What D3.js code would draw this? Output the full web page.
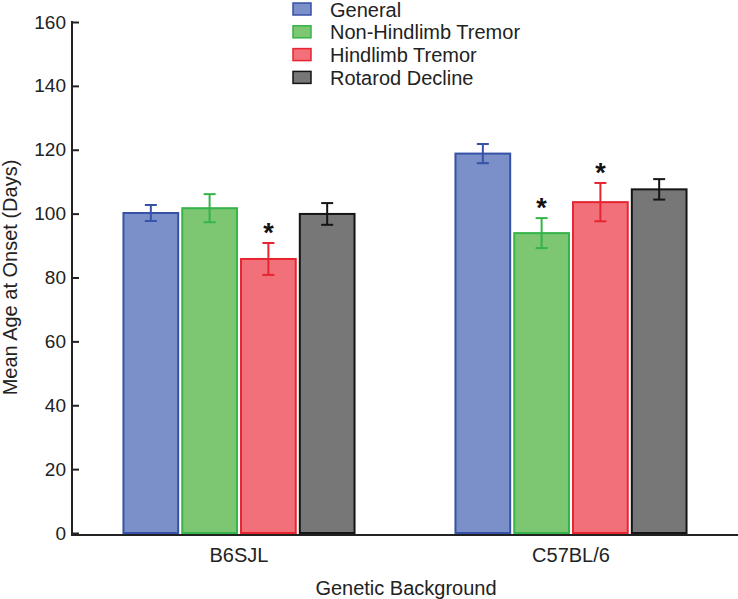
<!DOCTYPE html>
<html>
<head>
<meta charset="utf-8">
<script src="https://cdn.jsdelivr.net/npm/d3@7"></script>
<style>
  body { margin: 0; background: #fff; }
  svg { font-family: "Liberation Sans", Arial, sans-serif; }
</style>
</head>
<body>
<svg id="chart" width="738" height="599"></svg>
<script>
const groups = ["B6SJL", "C57BL/6"];
const series = ["General", "Non-Hindlimb Tremor", "Hindlimb Tremor", "Rotarod Decline"];
const means = {
  "B6SJL":   [100.2, 101.7, 85.8, 99.9],
  "C57BL/6": [118.8, 93.9, 103.6, 107.6]
};
const errs = {
  "B6SJL":   [2.5, 4.4, 5.0, 3.4],
  "C57BL/6": [3.0, 4.7, 6.0, 3.2]
};
const stars = {
  "B6SJL":   [false, false, true, false],
  "C57BL/6": [false, true, true, false]
};
const yTicks = [0, 20, 40, 60, 80, 100, 120, 140, 160];

const fills   = ["#7b8fc9", "#7dc672", "#f2707a", "#777777"];
const strokes = ["#3552a6", "#35b449", "#e62531", "#151515"];

const svg = d3.select("#chart");
const mLeft = 72, mRight = 738, mTop = 22, mBottom = 533;

const y = d3.scaleLinear().domain([0, 160]).range([mBottom, mTop]);
const x0 = d3.scaleBand().domain(groups).range([mLeft, mRight])
  .paddingInner(0.298).paddingOuter(0.152);
const x1 = d3.scaleBand().domain(series).range([0, x0.bandwidth()]).paddingInner(0.035);

const rows = [];
groups.forEach(g => series.forEach((s, i) => rows.push({
  g, s, i, v: means[g][i], e: errs[g][i], star: stars[g][i]
})));

// bars
svg.append("g").selectAll("rect").data(rows).join("rect")
  .attr("x", d => x0(d.g) + x1(d.s) + 1)
  .attr("y", d => y(d.v))
  .attr("width", x1.bandwidth() - 2)
  .attr("height", d => y(0) - y(d.v))
  .attr("fill", d => fills[d.i])
  .attr("stroke", d => strokes[d.i])
  .attr("stroke-width", 2);

// error bars
const eg = svg.append("g").selectAll("g").data(rows).join("g")
  .attr("stroke", d => strokes[d.i]).attr("stroke-width", 2);
const cx = d => x0(d.g) + x1(d.s) + x1.bandwidth() / 2;
eg.append("line").attr("x1", cx).attr("x2", cx)
  .attr("y1", d => y(d.v + d.e)).attr("y2", d => y(d.v - d.e));
eg.append("line").attr("x1", d => cx(d) - 6).attr("x2", d => cx(d) + 6)
  .attr("y1", d => y(d.v + d.e)).attr("y2", d => y(d.v + d.e));
eg.append("line").attr("x1", d => cx(d) - 6).attr("x2", d => cx(d) + 6)
  .attr("y1", d => y(d.v - d.e)).attr("y2", d => y(d.v - d.e));

// significance stars
svg.append("g").selectAll("text").data(rows.filter(d => d.star)).join("text")
  .attr("x", cx)
  .attr("y", d => y(d.v + d.e) - 1)
  .attr("text-anchor", "middle")
  .attr("font-size", 27)
  .attr("font-weight", "bold")
  .attr("fill", "#111")
  .text("*");

// y axis (ticks point inward)
const yAxis = svg.append("g").attr("transform", `translate(${mLeft},0)`)
  .call(d3.axisLeft(y).tickValues(yTicks).tickSize(-7).tickPadding(6));
yAxis.select(".domain").attr("stroke", "#222").attr("stroke-width", 2)
  .attr("d", `M0,${mTop - 1}V${mBottom + 2}`);
yAxis.selectAll(".tick line").attr("stroke", "#222").attr("stroke-width", 2);
yAxis.selectAll(".tick text").attr("font-size", 19).attr("fill", "#222")
  .attr("font-family", "Liberation Sans, Arial, sans-serif");

// x axis
const xAxis = svg.append("g").attr("transform", `translate(0,${mBottom + 2})`)
  .call(d3.axisBottom(x0).tickSize(0).tickPadding(13));
xAxis.select(".domain").attr("stroke", "#222").attr("stroke-width", 2)
  .attr("d", `M${mLeft - 1},0H${mRight}`);
xAxis.selectAll(".tick text").attr("font-size", 20).attr("fill", "#222")
  .attr("font-family", "Liberation Sans, Arial, sans-serif");

// axis titles
svg.append("text").attr("x", 406).attr("y", 595).attr("text-anchor", "middle")
  .attr("font-size", 20).attr("fill", "#222").text("Genetic Background");
svg.append("text").attr("transform", `translate(17,${(mTop + mBottom) / 2}) rotate(-90)`)
  .attr("text-anchor", "middle").attr("font-size", 20).attr("fill", "#222")
  .text("Mean Age at Onset (Days)");

// legend
const lg = svg.append("g").selectAll("g").data(series).join("g")
  .attr("transform", (d, i) => `translate(293,${3 + i * 22.8})`);
lg.append("rect").attr("width", 18).attr("height", 12)
  .attr("fill", (d, i) => fills[i]).attr("stroke", (d, i) => strokes[i]).attr("stroke-width", 1.5);
lg.append("text").attr("x", 37).attr("y", 13.5).attr("font-size", 20).attr("fill", "#222")
  .text(d => d);
</script>
</body>
</html>
